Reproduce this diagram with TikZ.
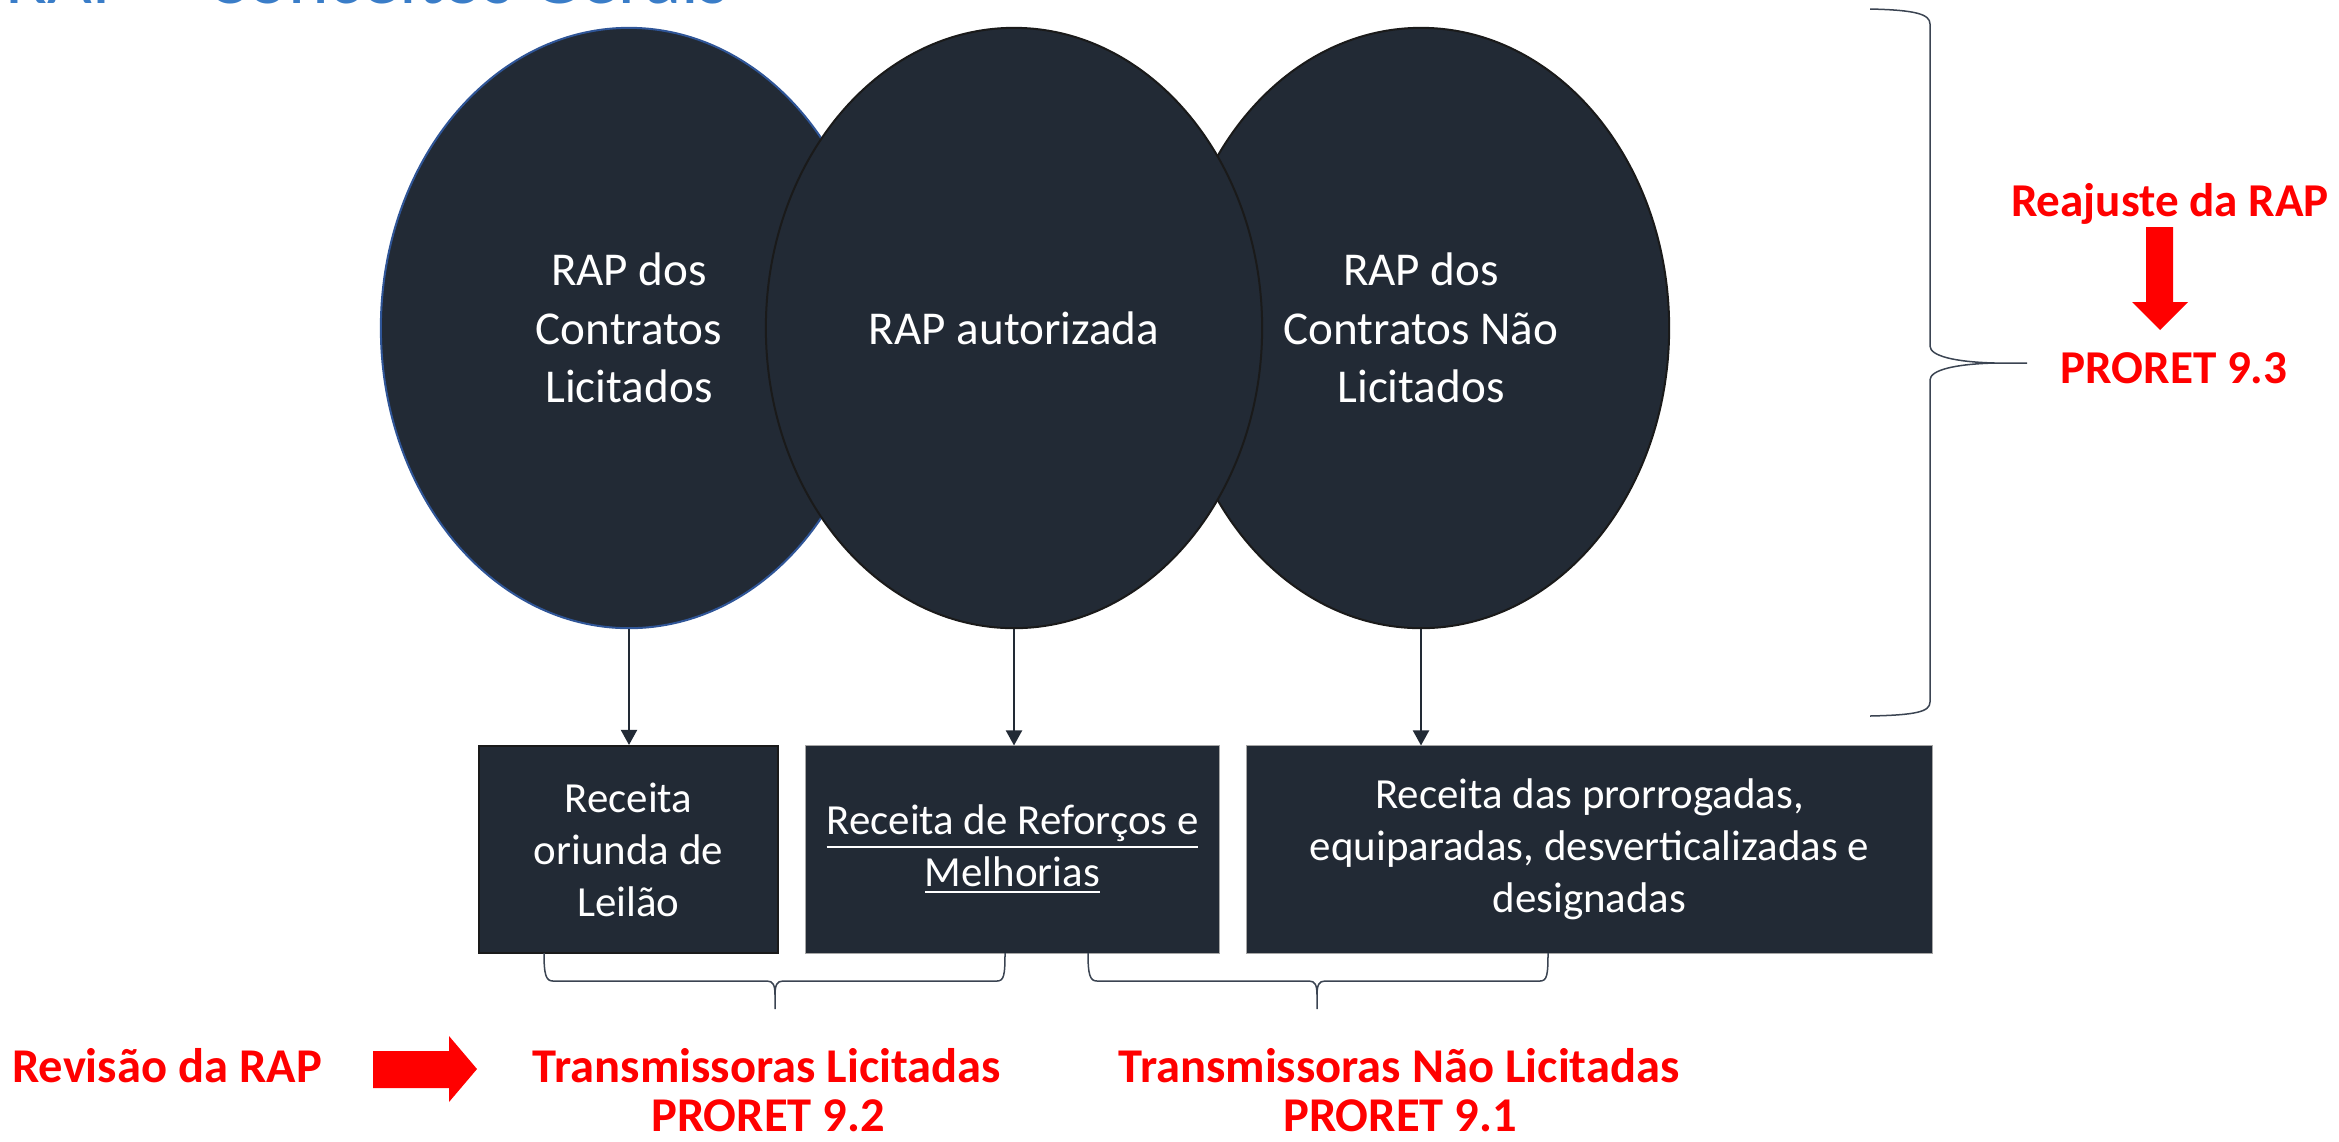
\documentclass[tikz,border=0pt]{standalone}
\usepackage{fontspec}
\setmainfont{Carlito}
\usetikzlibrary{shapes.geometric,arrows.meta}

\definecolor{ardosia}{RGB}{34,42,53}
\definecolor{bordaazul}{RGB}{47,85,151}
\definecolor{bordaescura}{RGB}{26,26,26}
\definecolor{azultitulo}{RGB}{58,125,200}
\definecolor{chave}{RGB}{59,68,82}

\tikzset{
	rapoval/.style={ellipse, fill=ardosia, draw=bordaescura, line width=0.02cm, minimum width=4.96cm, minimum height=6cm, inner sep=0pt, text=white, align=center, font=\fontsize{13.4}{16.6}\selectfont},
	receita/.style={rectangle, fill=ardosia, draw=gray!70, line width=0.01cm, minimum height=2.07cm, inner sep=0pt, text=white, align=center, font=\fontsize{12.2}{14.8}\selectfont},
	destaque/.style={text=red, font=\fontsize{13.4}{16}\selectfont\bfseries, inner sep=0pt, anchor=base},
	ligacao/.style={draw=ardosia, line width=0.02cm, -{Triangle[length=0.15cm,width=0.16cm]}},
	chaveta/.style={draw=chave, line width=0.015cm}
}

\begin{document}
\begin{tikzpicture}[x=0.01cm, y=-0.01cm]
	
	\useasboundingbox (0,0) rectangle (2339,1141);
	
	\node[anchor=base west, text=azultitulo, font=\fontsize{22}{26}\selectfont, inner sep=0pt] (titulo) at (5,3) {RAP – Conceitos Gerais};
	
	\node[rapoval, draw=bordaazul] (licitados) at (629,328) {RAP dos\\Contratos\\Licitados};
	\node[rapoval] (naolicitados) at (1421,328) {RAP dos\\Contratos Não\\Licitados};
	\node[rapoval] (autorizada) at (1014,328) {RAP autorizada};
	
	\node[receita, draw=bordaescura, line width=0.02cm, minimum width=2.99cm] (leilao) at (628.5,849.5) {Receita\\oriunda de\\Leilão};
	\node[receita, minimum width=4.13cm] (reforcos) at (1012.5,849.5) {\underline{Receita de Reforços e}\\\underline{Melhorias}};
	\node[receita, minimum width=6.85cm] (prorrogadas) at (1589.5,849.5) {Receita das prorrogadas,\\equiparadas, desverticalizadas e\\designadas};
	
	\draw[ligacao] (licitados.south) -- (licitados.south |- leilao.north);
	\draw[ligacao] (autorizada.south) -- (autorizada.south |- reforcos.north);
	\draw[ligacao] (naolicitados.south) -- (naolicitados.south |- prorrogadas.north);
	
	\draw[chaveta] (544,953) .. controls (544,975) and (546,981) .. (553,981) -- (767,981) .. controls (773,981) and (775,985) .. (775,995) -- (775,1009)
		(775,995) .. controls (775,985) and (777,981) .. (783,981) -- (997,981) .. controls (1004,981) and (1005,975) .. (1005,953);
	\draw[chaveta] (1088,953) .. controls (1088,975) and (1090,981) .. (1097,981) -- (1309,981) .. controls (1315,981) and (1317,985) .. (1317,995) -- (1317,1009)
		(1317,995) .. controls (1317,985) and (1319,981) .. (1325,981) -- (1540,981) .. controls (1547,981) and (1548,975) .. (1548,953);
	
	\draw[chaveta] (1870,9) .. controls (1915,10) and (1930,14) .. (1930,24) -- (1930,346) .. controls (1930,356) and (1955,362) .. (1995,363) -- (2027,363)
		(1995,363) .. controls (1955,364) and (1930,370) .. (1930,380) -- (1930,702) .. controls (1930,712) and (1915,715) .. (1870,716);
	
	\node[destaque] (reajuste) at (2170,216) {Reajuste da RAP};
	\fill[red] (2146,227) -- (2173,227) -- (2173,302) -- (2188,302) -- (2160,330) -- (2132,302) -- (2146,302) -- cycle;
	\node[destaque] (proret93) at (2174,383) {PRORET 9.3};
	
	\node[destaque, font=\fontsize{13.8}{16}\selectfont\bfseries] (revisao) at (167,1082) {Revisão da RAP};
	\fill[red] (373,1051) -- (449,1051) -- (449,1036) -- (477,1069) -- (449,1102) -- (449,1088) -- (373,1088) -- cycle;
	\node[destaque, font=\fontsize{13.8}{16}\selectfont\bfseries] (licitadas) at (767,1082) {Transmissoras Licitadas};
	\node[destaque, font=\fontsize{13.8}{16}\selectfont\bfseries] (proret92) at (768,1131) {PRORET 9.2};
	\node[destaque, font=\fontsize{13.8}{16}\selectfont\bfseries] (naolicitadas) at (1399,1082) {Transmissoras Não Licitadas};
	\node[destaque, font=\fontsize{13.8}{16}\selectfont\bfseries] (proret91) at (1400,1131) {PRORET 9.1};
	
\end{tikzpicture}
\end{document}
